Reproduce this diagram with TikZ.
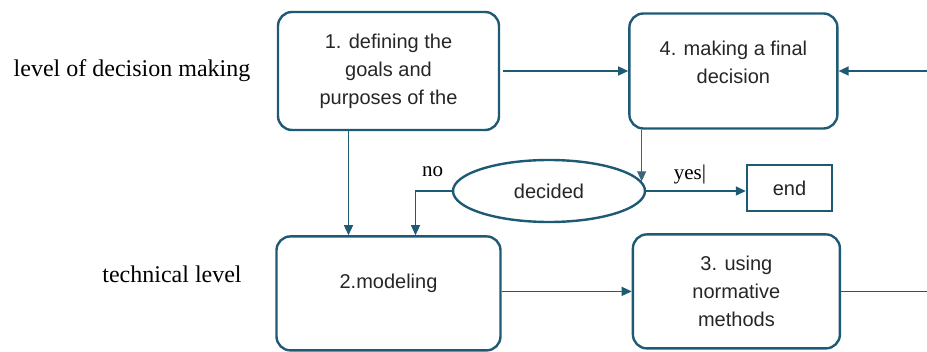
\documentclass[tikz,border=0pt]{standalone}
\usepackage{fontspec}
\setmainfont{Liberation Serif}
\setsansfont{Liberation Sans}
\usetikzlibrary{arrows.meta,shapes,positioning,calc}
\definecolor{flowblue}{RGB}{31,90,116}

\begin{document}
\begin{tikzpicture}[x=1pt,y=1pt,->,>={Triangle[length=10pt,width=9pt]},
line width=1.4pt,color=flowblue]
\tikzstyle{stepbox}=[rectangle,rounded corners=14pt,draw=flowblue,line width=2.4pt,
 text=black!85,align=center,font=\sffamily\fontsize{20}{28}\selectfont]
\tikzstyle{steptext}=[text=black!85,align=center,font=\sffamily\fontsize{20}{28}\selectfont]
\tikzstyle{levellabel}=[text=black,font=\fontsize{24}{28}\selectfont]
\tikzstyle{answer}=[text=black,font=\fontsize{21}{24}\selectfont]

\useasboundingbox (0,0) rectangle (927,351);

\node[stepbox, minimum width=221pt, minimum height=118pt]
(Q1) at (388.5,280) {1. defining the\\goals and\\purposes of the};

\node[stepbox, minimum width=208pt, minimum height=115pt,
label={[steptext,yshift=8.5pt]center:{4. making a final\\decision}}]
(Q4) [right=128pt of Q1] {};

\node[stepbox, minimum width=224pt, minimum height=114pt,
label={[steptext,yshift=10pt]center:2.modeling}]
(Q2) [below=104pt of Q1] {};

\node[stepbox, minimum width=207pt, minimum height=114pt]
(Q3) [right=130pt of Q2, yshift=2pt] {3. using\\normative\\methods};

\node[ellipse, draw=flowblue, line width=2.4pt, minimum width=192pt, minimum height=62pt,
 inner sep=0pt, text=black!85, font=\sffamily\fontsize{20}{24}\selectfont]
(dec) at (549,160) {decided};

\node[rectangle, draw=flowblue, line width=2.4pt, minimum width=85pt, minimum height=46pt,
 text=black!85, font=\sffamily\fontsize{20}{24}\selectfont]
(fin) at (789.5,163) {end};

%levels
\node[levellabel, anchor=base] (lvltop) at (132,274) {level of decision making};
\node[levellabel, anchor=base] (lvlbot) at (172,68) {technical level};

%answers
\node[answer, anchor=base] (no) at (432.5,174) {no};
\node[answer, anchor=base] (yes) at (690,171) {yes|};

\draw[->, shorten <=3pt] (Q1.east) -- (Q4.east -| Q4.west);

\draw[->] ($(Q1.south)+(-40,0)$) coordinate (q1foot) -- (q1foot |- Q2.north);

\draw[->, line width=1.1pt, flowblue!70!gray] (Q4.south -| dec.6) -- (dec.6);

\draw[->] (dec.east) -- (dec.east -| fin.west);

\draw[->] (dec.west) -| ($(Q2.north)+(27,0)$);

\draw[->] (Q3.west -| Q2.east) -- (Q3.west);

%feedback
\coordinate (rim) at (928,0);
\draw[->] (Q3.east) -| (rim |- Q4.east) -- (Q4.east);

\end{tikzpicture}
\end{document}
